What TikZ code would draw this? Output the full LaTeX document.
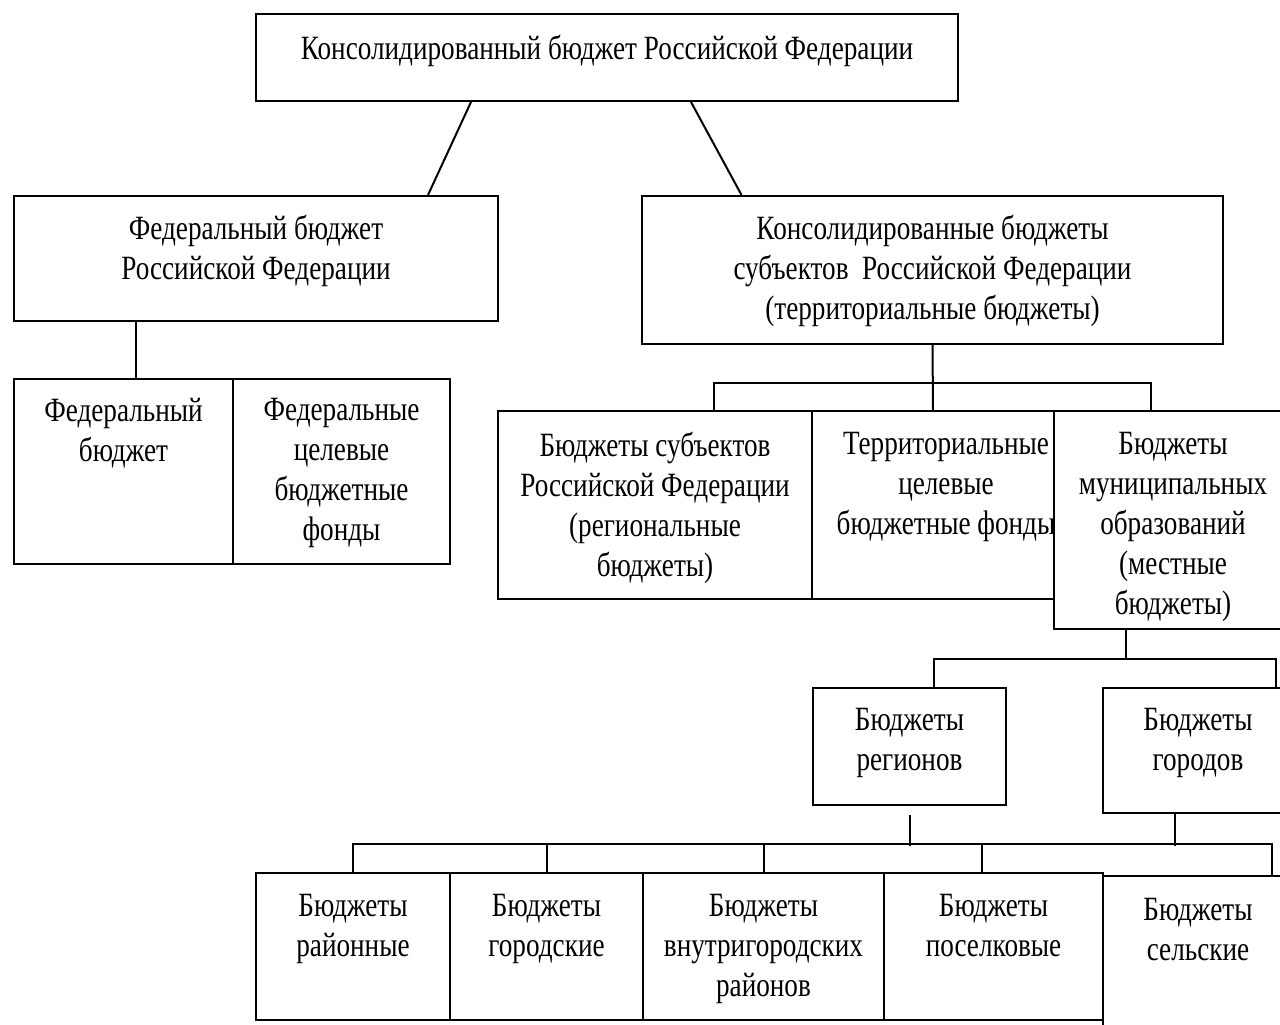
\documentclass[tikz,border=0pt]{standalone}
\usepackage{fontspec}
\setmainfont[FakeStretch=0.80]{Liberation Serif}

\tikzset{
  cell/.style={draw, line width=2pt, fill=white, inner sep=0pt, anchor=north west},
  lbl/.style={align=center, anchor=north, inner sep=0pt, font=\fontsize{34}{40}\selectfont,
    execute at begin node=\strut},
  link/.style={line width=2pt}
}

\begin{document}
\begin{tikzpicture}[x=1pt, y=1pt]
    \useasboundingbox (0,0) rectangle (1280,-1025);
    \clip (0,0) rectangle (1280,-1025);
    \fill[white] (0,0) rectangle (1280,-1025);

    % top level
    \node[cell, minimum width=702pt, minimum height=87pt] (top) at (255,-13) {};
    \node[lbl] (topT) at ([yshift=-18pt]top.north) {Консолидированный бюджет Российской Федерации};

    % second level
    \node[cell, minimum width=484pt, minimum height=125pt] (fed) at (13,-195) {};
    \node[lbl] (fedT) at ([yshift=-20pt]fed.north) {Федеральный бюджет\\Российской Федерации};
    \node[cell, minimum width=581pt, minimum height=148pt] (subj) at (641,-195) {};
    \node[lbl] (subjT) at ([yshift=-20pt]subj.north) {Консолидированные бюджеты\\субъектов\ \ Российской Федерации\\(территориальные бюджеты)};

    % federal part
    \node[cell, minimum width=219pt, minimum height=185pt] (fedb) at (13,-378) {};
    \node[lbl] (fedbT) at ([yshift=-20pt]fedb.north) {Федеральный\\бюджет};
    \node[cell, minimum width=217pt, minimum height=185pt] (fedfund) at (232,-378) {};
    \node[lbl] (fedfundT) at ([yshift=-20pt]fedfund.north) {Федеральные\\целевые\\бюджетные\\фонды};

    % territorial part
    \node[cell, minimum width=314pt, minimum height=188pt] (regb) at (497,-410) {};
    \node[lbl] (regbT) at ([yshift=-22pt]regb.north) {Бюджеты субъектов\\Российской Федерации\\(региональные\\бюджеты)};
    \node[cell, minimum width=242pt, minimum height=188pt] (terr) at (811,-410) {};
    \node[lbl] (terrT) at ([xshift=13pt, yshift=-22pt]terr.north) {Территориальные\\целевые\\бюджетные фонды};
    \node[cell, minimum width=238pt, minimum height=218pt] (muni) at (1053,-410) {};
    \node[lbl] (muniT) at ([yshift=-22pt]muni.north) {Бюджеты\\муниципальных\\образований\\(местные\\бюджеты)};

    % municipal part
    \node[cell, minimum width=193pt, minimum height=117pt] (regions) at (812,-687) {};
    \node[lbl] (regionsT) at ([yshift=-21pt]regions.north) {Бюджеты\\регионов};
    \node[cell, minimum width=190pt, minimum height=125pt] (cities) at (1102,-687) {};
    \node[lbl] (citiesT) at ([yshift=-21pt]cities.north) {Бюджеты\\городов};

    % bottom row
    \node[cell, minimum width=194pt, minimum height=147pt] (rayon) at (255,-872) {};
    \node[lbl] (rayonT) at ([yshift=-22pt]rayon.north) {Бюджеты\\районные};
    \node[cell, minimum width=193pt, minimum height=147pt] (gorod) at (449,-872) {};
    \node[lbl] (gorodT) at ([yshift=-22pt]gorod.north) {Бюджеты\\городские};
    \node[cell, minimum width=241pt, minimum height=147pt] (vnutr) at (642,-872) {};
    \node[lbl] (vnutrT) at ([yshift=-22pt]vnutr.north) {Бюджеты\\внутригородских\\районов};
    \node[cell, minimum width=219pt, minimum height=147pt] (posel) at (883,-872) {};
    \node[lbl] (poselT) at ([yshift=-22pt]posel.north) {Бюджеты\\поселковые};
    \node[cell, minimum width=190pt, minimum height=200pt] (rural) at (1102,-875) {};
    \node[lbl] (ruralT) at ([yshift=-23pt]rural.north) {Бюджеты\\сельские};

    % connectors
    \draw[link] ([xshift=-136pt]top.south) -- ([xshift=172pt]fed.north);
    \draw[link] ([xshift=84pt]top.south) -- ([xshift=-191pt]subj.north);
    \draw[link] ([xshift=-120pt]fed.south) -- ([xshift=12.5pt]fedb.north);

    \draw[link] (subj.south) -- (terr.north);
    \draw[link] ([xshift=59pt]regb.north) |- ([yshift=27pt]terr.north) -| ([xshift=-22pt]muni.north);

    \draw[link] ([xshift=-47pt]muni.south) -- ++(0,-29) coordinate (mbus);
    \draw[link] ([xshift=24pt]regions.north) |- (mbus) -| ([xshift=78pt]cities.north);

    \draw[link] ([yshift=-9pt]regions.south) -- ++(0,-31);
    \draw[link] ([xshift=-23pt]cities.south) -- ++(0,-32);
    \draw[link] (rayon.north) -- ++(0,28) -| ([xshift=74pt]rural.north);
    \foreach \n in {gorod, vnutr}
        \draw[link] (\n.north) -- ++(0,28);
    \draw[link] ([xshift=-12pt]posel.north) -- ++(0,28);
\end{tikzpicture}
\end{document}
